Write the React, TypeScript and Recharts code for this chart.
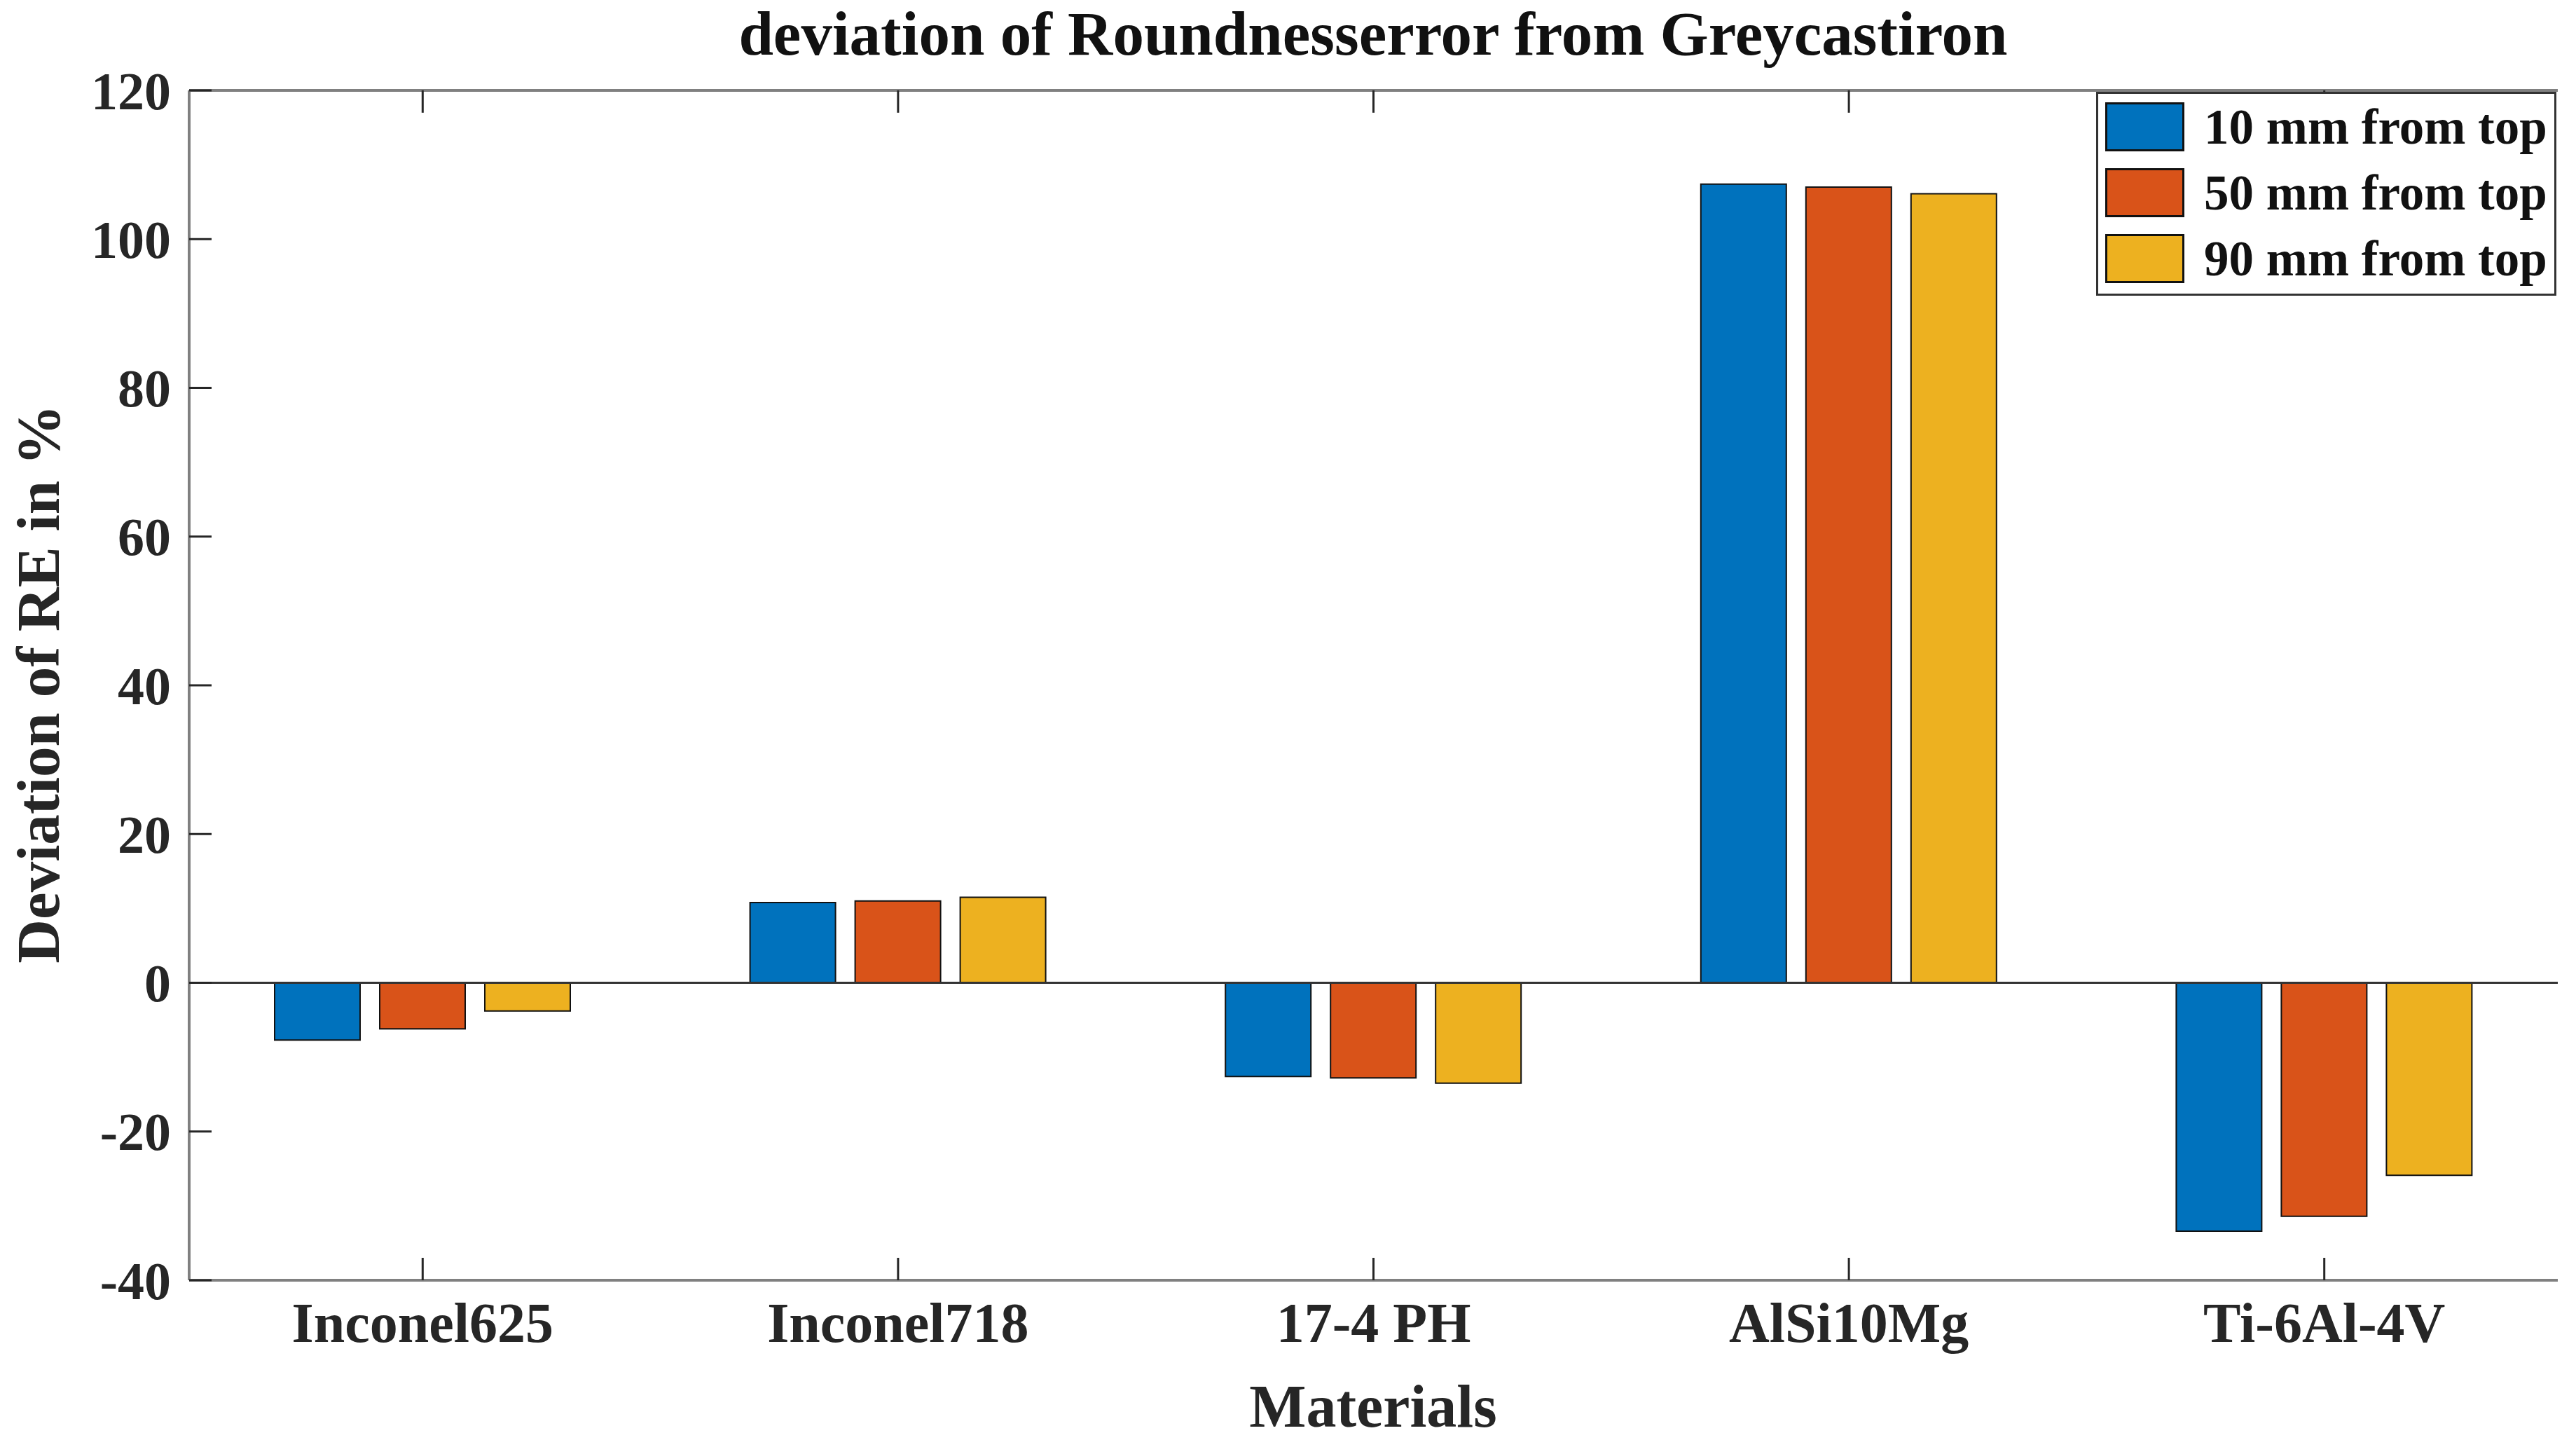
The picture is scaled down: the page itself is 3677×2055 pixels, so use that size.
import React from 'react';
import { BarChart, Bar, XAxis, YAxis, Legend, ReferenceLine } from 'recharts';

const materials = ['Inconel625', 'Inconel718', '17-4 PH', 'AlSi10Mg', 'Ti-6Al-4V'];
const top10 = [-7.7, 10.8, -12.6, 107.4, -33.4];
const top50 = [-6.2, 11.0, -12.8, 107.0, -31.4];
const top90 = [-3.8, 11.5, -13.5, 106.1, -25.9];
const yTicks = [-40, -20, 0, 20, 40, 60, 80, 100, 120];
const yMin = -40;
const yMax = 120;
const topTickLen = 3; // in data units, ~ same length as the other inward ticks

const seriesNames = ['10 mm from top', '50 mm from top', '90 mm from top'];
const colors = ['#0072BD', '#D95319', '#EDB120'];

const data = materials.map((m, i) => ({ name: m, s10: top10[i], s50: top50[i], s90: top90[i] }));

const W = 3677;
const H = 2055;
const FONT = '"Liberation Serif", "DejaVu Serif", serif';
const TICK = 32;

const LeftTick = (p: any) => (
  <g>
    <line x1={p.x} y1={p.y} x2={p.x + TICK} y2={p.y} stroke="#262626" strokeWidth={3} />
    <text x={p.x - 26} y={p.y} dy="0.35em" textAnchor="end" fontFamily={FONT} fontWeight="bold" fontSize={76} fill="#262626">
      {p.payload.value}
    </text>
  </g>
);

const RightTick = (p: any) => (
  <line x1={p.x} y1={p.y} x2={p.x - TICK} y2={p.y} stroke="#262626" strokeWidth={3} />
);

const BottomTick = (p: any) => (
  <g>
    <line x1={p.x} y1={p.y} x2={p.x} y2={p.y - TICK} stroke="#262626" strokeWidth={3} />
    <text x={p.x} y={p.y + 88} textAnchor="middle" fontFamily={FONT} fontWeight="bold" fontSize={80} fill="#262626">
      {p.payload.value}
    </text>
  </g>
);

const LegendBox = () => (
  <div style={{ position: 'relative', width: 657, height: 291, border: '3px solid #333', background: '#fff', boxSizing: 'border-box' }}>
    {seriesNames.map((n, i) => (
      <div key={n} style={{ position: 'absolute', left: 10, top: 47 + i * 94 - 35, height: 70, display: 'flex', alignItems: 'center' }}>
        <div style={{ width: 113, height: 70, background: colors[i], border: '3px solid #111', boxSizing: 'border-box' }} />
        <span style={{ marginLeft: 28, fontFamily: FONT, fontWeight: 'bold', fontSize: 71, color: '#111', whiteSpace: 'nowrap' }}>{n}</span>
      </div>
    ))}
  </div>
);

export default function App() {
  return (
    <div style={{ position: 'absolute', left: 0, top: 0, width: W, height: H, background: '#fff' }}>
      <BarChart
        width={W}
        height={H}
        data={data}
        margin={{ top: 129, right: 26, bottom: 78, left: 70 }}
        barSize={122}
        barGap={28}
      >
        <XAxis
          dataKey="name"
          xAxisId={0}
          interval={0}
          tickSize={0}
          tickMargin={0}
          height={150}
          padding={{ left: -6, right: -6 }}
          axisLine={{ stroke: '#808080', strokeWidth: 4 }}
          tick={<BottomTick />}
        />
        <YAxis
          yAxisId={0}
          domain={[yMin, yMax]}
          ticks={yTicks}
          interval={0}
          tickSize={0}
          tickMargin={0}
          width={200}
          axisLine={{ stroke: '#808080', strokeWidth: 4 }}
          tick={<LeftTick />}
        />
        <YAxis
          yAxisId="right"
          orientation="right"
          domain={[yMin, yMax]}
          ticks={yTicks}
          interval={0}
          tickSize={0}
          tickMargin={0}
          width={0}
          axisLine={{ stroke: '#808080', strokeWidth: 4 }}
          tick={<RightTick />}
        />
        <ReferenceLine y={yMax} stroke="#808080" strokeWidth={4} />
        {materials.map((m) => (
          <ReferenceLine
            key={m}
            segment={[{ x: m, y: yMax }, { x: m, y: yMax - topTickLen }]}
            stroke="#262626"
            strokeWidth={3}
          />
        ))}
        <Bar dataKey="s10" name={seriesNames[0]} fill={colors[0]} stroke="#111" strokeWidth={2} isAnimationActive={false} />
        <Bar dataKey="s50" name={seriesNames[1]} fill={colors[1]} stroke="#111" strokeWidth={2} isAnimationActive={false} />
        <Bar dataKey="s90" name={seriesNames[2]} fill={colors[2]} stroke="#111" strokeWidth={2} isAnimationActive={false} />
        <ReferenceLine y={0} stroke="#333" strokeWidth={3} />
        <Legend
          layout="vertical"
          align="center"
          verticalAlign="middle"
          content={<LegendBox />}
          wrapperStyle={{ position: 'absolute', left: 2992, top: 131, width: 657, height: 291 }}
        />
        <text x={1960} y={78} textAnchor="middle" fontFamily={FONT} fontWeight="bold" fontSize={89} fill="#111">
          deviation of Roundnesserror from Greycastiron
        </text>
        <text x={1960} y={2036} textAnchor="middle" fontFamily={FONT} fontWeight="bold" fontSize={86} fill="#262626">
          Materials
        </text>
        <text
          x={54}
          y={976}
          transform="rotate(-90 54 976)"
          dy="0.35em"
          textAnchor="middle"
          fontFamily={FONT}
          fontWeight="bold"
          fontSize={87}
          fill="#262626"
        >
          Deviation of RE in %
        </text>
      </BarChart>
    </div>
  );
}
